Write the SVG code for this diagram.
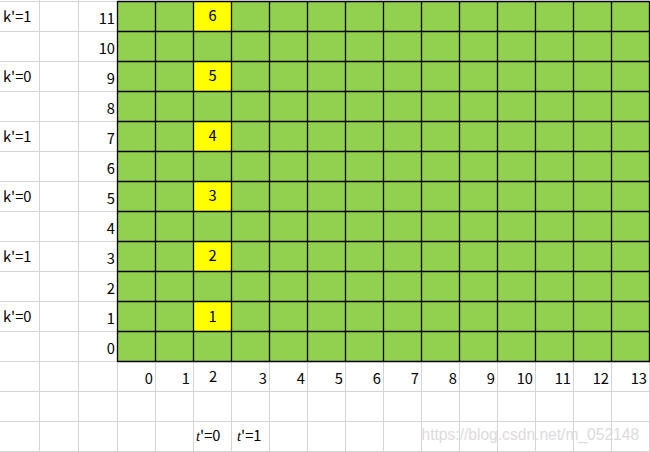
<svg xmlns="http://www.w3.org/2000/svg" width="650" height="452" viewBox="0 0 650 452">
<style>
.g{stroke:#d4d4d4;stroke-width:1;fill:none}
.b{stroke:#000;stroke-width:1.3;fill:none}
.cell{fill:#92d050}
.y{fill:#ffff00}
text{font-family:"Noto Sans CJK SC","Microsoft YaHei","Noto Sans",sans-serif;font-size:14.7px;fill:#000}
.r{text-anchor:end}
.c{text-anchor:middle}
.wm{font-family:"Liberation Sans",Arial,sans-serif;font-size:15.6px;fill:#d6d6d6;opacity:0.85}
</style>
<rect width="650" height="452" fill="#fff"/>
<g id="gridlines">
<path class="g" d="M0 1.5H117.5M0 31.5H117.5M0 61.5H117.5M0 91.5H117.5M0 121.5H117.5M0 151.5H117.5M0 181.5H117.5M0 211.5H117.5M0 241.5H117.5M0 271.5H117.5M0 301.5H117.5M0 331.5H117.5M0 361.5H117.5M0 391.5H650M0 421.5H650M0 451.5H650"/>
<path class="g" d="M39.5 0V452M78.5 0V452M117.5 361V452M155.5 361V452M193.5 361V452M231.5 361V452M269.5 361V452M307.5 361V452M345.5 361V452M383.5 361V452M421.5 361V452M459.5 361V452M497.5 361V452M535.5 361V452M573.5 361V452M611.5 361V452M649.5 361V452"/>
</g>
<g id="grid">
<rect class="cell" x="117.5" y="1.5" width="532" height="360"/>
<rect class="y" x="193.5" y="1.5" width="38" height="30"/>
<rect class="y" x="193.5" y="61.5" width="38" height="30"/>
<rect class="y" x="193.5" y="121.5" width="38" height="30"/>
<rect class="y" x="193.5" y="181.5" width="38" height="30"/>
<rect class="y" x="193.5" y="241.5" width="38" height="30"/>
<rect class="y" x="193.5" y="301.5" width="38" height="30"/>
<path class="b" d="M117.5 1.5H649.5M117.5 31.5H649.5M117.5 61.5H649.5M117.5 91.5H649.5M117.5 121.5H649.5M117.5 151.5H649.5M117.5 181.5H649.5M117.5 211.5H649.5M117.5 241.5H649.5M117.5 271.5H649.5M117.5 301.5H649.5M117.5 331.5H649.5M117.5 361.5H649.5"/>
<path class="b" d="M117.5 1V362M155.5 1V362M193.5 1V362M231.5 1V362M269.5 1V362M307.5 1V362M345.5 1V362M383.5 1V362M421.5 1V362M459.5 1V362M497.5 1V362M535.5 1V362M573.5 1V362M611.5 1V362M649.5 1V362"/>
</g>
<g id="yellow-labels">
<text class="c" x="212.5" y="21.2">6</text>
<text class="c" x="212.5" y="81.2">5</text>
<text class="c" x="212.5" y="141.2">4</text>
<text class="c" x="212.5" y="201.2">3</text>
<text class="c" x="212.5" y="261.2">2</text>
<text class="c" x="212.5" y="321.5">1</text>
</g>
<g id="row-labels">
<text class="r" x="115" y="24">11</text>
<text class="r" x="115" y="54">10</text>
<text class="r" x="115" y="84">9</text>
<text class="r" x="115" y="114">8</text>
<text class="r" x="115" y="144">7</text>
<text class="r" x="115" y="174">6</text>
<text class="r" x="115" y="204">5</text>
<text class="r" x="115" y="234">4</text>
<text class="r" x="115" y="264">3</text>
<text class="r" x="115" y="294">2</text>
<text class="r" x="115" y="324">1</text>
<text class="r" x="115" y="354">0</text>
</g>
<g id="k-labels">
<text x="3" y="22">k'=1</text>
<text x="3" y="82">k'=0</text>
<text x="3" y="142">k'=1</text>
<text x="3" y="202">k'=0</text>
<text x="3" y="262">k'=1</text>
<text x="3" y="322">k'=0</text>
</g>
<g id="col-labels">
<text class="r" x="153" y="384">0</text>
<text class="r" x="190" y="384">1</text>
<text class="c" x="213" y="382">2</text>
<text class="r" x="267" y="384">3</text>
<text class="r" x="305" y="384">4</text>
<text class="r" x="343" y="384">5</text>
<text class="r" x="381" y="384">6</text>
<text class="r" x="419" y="384">7</text>
<text class="r" x="457" y="384">8</text>
<text class="r" x="495" y="384">9</text>
<text class="r" x="533" y="384">10</text>
<text class="r" x="571" y="384">11</text>
<text class="r" x="609" y="384">12</text>
<text class="r" x="647" y="384">13</text>
</g>
<g id="t-labels">
<text x="196" y="441"><tspan font-family="Liberation Serif,serif" font-style="italic">t</tspan>'=0</text>
<text x="237" y="441"><tspan font-family="Liberation Serif,serif" font-style="italic">t</tspan>'=1</text>
</g>
<text class="wm" x="421.5" y="440">https://blog.csdn.net/m_052148</text>
</svg>
